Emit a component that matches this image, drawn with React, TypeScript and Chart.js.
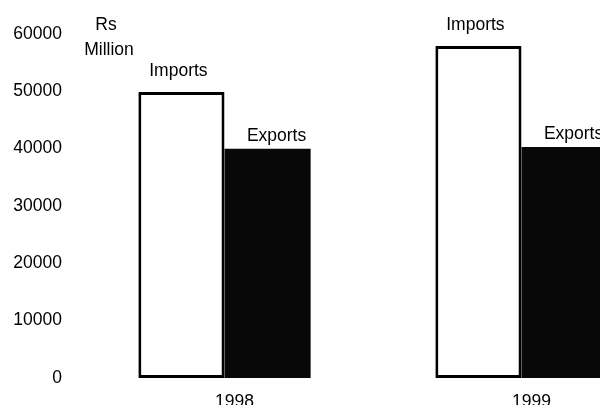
import React, { useEffect, useRef } from "react";
import { Chart, registerables } from "chart.js";

Chart.register(...registerables);

const years = ["1998", "1999"];
const seriesNames = ["Imports", "Exports"];
const importsValues = [49900, 57900];
const exportsValues = [40000, 40300];
const yTicks = [0, 10000, 20000, 30000, 40000, 50000, 60000];
const unitLines = ["Rs", "Million"];

const FONT = "'Liberation Sans', Arial, Helvetica, sans-serif";
const FS = 17.5;

const barLabelPlugin = {
  id: "barLabels",
  afterDatasetsDraw(chart: any) {
    const ctx = chart.ctx;
    ctx.save();
    ctx.font = `${FS}px ${FONT}`;
    ctx.fillStyle = "#000";
    ctx.textAlign = "center";
    ctx.textBaseline = "alphabetic";
    const offsets = [
      { dx: -3, dy: 16 },
      { dx: 9, dy: 8 },
    ];
    chart.data.datasets.forEach((ds: any, i: number) => {
      const meta = chart.getDatasetMeta(i);
      meta.data.forEach((bar: any) => {
        ctx.fillText(ds.label, bar.x + offsets[i].dx, bar.y - offsets[i].dy);
      });
    });
    ctx.textBaseline = "middle";
    ctx.fillText(unitLines[0], 106, 25);
    ctx.fillText(unitLines[1], 109, 50);
    ctx.restore();
  },
};

export default function App() {
  const ref = useRef<HTMLCanvasElement | null>(null);
  useEffect(() => {
    if (!ref.current) return;
    const chart = new Chart(ref.current, {
      type: "bar",
      data: {
        labels: years,
        datasets: [
          {
            label: seriesNames[0],
            data: importsValues,
            backgroundColor: "#ffffff",
            borderColor: "#000000",
            borderWidth: 3,
            borderSkipped: false,
          },
          {
            label: seriesNames[1],
            data: exportsValues,
            backgroundColor: "#080808",
            borderColor: "#000000",
            borderWidth: 0,
          },
        ],
      },
      options: {
        responsive: false,
        animation: false,
        layout: { padding: { top: 34, left: 0, right: 0, bottom: 0 } },
        plugins: {
          legend: { display: false },
          tooltip: { enabled: false },
          title: { display: false },
        },
        datasets: {
          bar: { categoryPercentage: 0.58, barPercentage: 1.0 },
        } as any,
        scales: {
          x: {
            type: "category",
            offset: true,
            grid: { display: false, drawTicks: false },
            border: { display: false },
            ticks: {
              color: "#000",
              font: { family: FONT, size: FS },
              padding: 14,
              labelOffset: 10,
              maxRotation: 0,
            },
            afterFit(scale: any) {
              scale.height = 27;
            },
          },
          y: {
            min: 0,
            max: 60000,
            grid: { display: false, drawTicks: false },
            border: { display: false },
            afterBuildTicks(scale: any) {
              scale.ticks = yTicks.map((v) => ({ value: v }));
            },
            ticks: {
              color: "#000",
              font: { family: FONT, size: FS },
              padding: 14,
              callback: (v: any) => String(v),
            },
            afterFit(scale: any) {
              scale.width = 76;
            },
          },
        },
      },
      plugins: [barLabelPlugin],
    });
    return () => chart.destroy();
  }, []);
  return (
    <div
      style={{
        position: "fixed",
        left: 0,
        top: 0,
        width: 600,
        height: 405,
        overflow: "hidden",
        background: "#fff",
      }}
    >
      <canvas ref={ref} width={670} height={405} style={{ display: "block" }} />
    </div>
  );
}
